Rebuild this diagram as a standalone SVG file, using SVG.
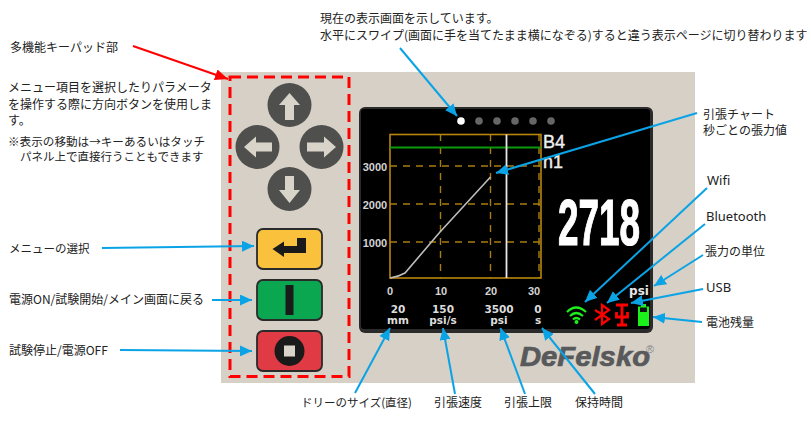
<svg xmlns="http://www.w3.org/2000/svg" width="811" height="425" viewBox="0 0 811 425">
<style>
.t{font-family:"Noto Sans CJK JP","Noto Sans",sans-serif;font-size:12px;fill:#222}
.l{font-family:"Noto Sans",sans-serif;font-size:13px;fill:#222}
.s{font-family:"DejaVu Sans",sans-serif;font-weight:bold;font-size:10.500px;fill:#ddd;text-anchor:middle}
.a{font-family:"Liberation Sans",sans-serif;font-weight:bold;font-size:11px;fill:#d4d4d4;text-anchor:middle}
.g{stroke:#b8860b;stroke-width:1.6;fill:none}
.d{stroke:#a87c10;stroke-width:1.4;stroke-dasharray:7 6;fill:none}
.c{stroke:#0aa3e6;stroke-width:2;fill:none;marker-end:url(#b)}
.dp{fill:#4f504e}
.ar{fill:#d9d4ca}
.dot{fill:#666}
.key{stroke:#2a2a2a;stroke-width:1.8}
</style>
<defs>
<marker id="b" markerUnits="userSpaceOnUse" markerWidth="13" markerHeight="11" refX="12" refY="5.5" orient="auto"><path d="M0 0L12 5.5L0 11z" fill="#0aa3e6"/></marker>
<marker id="r" markerUnits="userSpaceOnUse" markerWidth="14" markerHeight="11" refX="13" refY="5.5" orient="auto"><path d="M0 0L13 5.5L0 11z" fill="#f00"/></marker>
</defs>
<rect width="811" height="425" fill="#fff"/>
<g id="device">
<rect x="221" y="72" width="474" height="311" fill="#d6d0c6"/>
<rect x="359" y="107" width="294" height="226" rx="6" fill="#2b2b2b"/>
<rect x="361" y="109" width="289" height="220" rx="3" fill="#000"/>
<text x="520" y="366" font-family="Liberation Sans,sans-serif" font-weight="bold" font-style="italic" font-size="28" fill="#58595b" stroke="#58595b" stroke-width=".7" textLength="130" lengthAdjust="spacingAndGlyphs">DeFelsko</text>
<text x="646" y="353" font-family="Liberation Sans,sans-serif" font-size="11" fill="#888">®</text>
</g>
<g id="keypad">
<rect x="230" y="77" width="119" height="299.500" fill="none" stroke="#f00" stroke-width="3" stroke-dasharray="11 6"/>
<g id="key-up"><circle cx="289.500" cy="105" r="22" class="dp"/><path class="ar" d="M289.500 93L300 105H294V120H285V105H279z"/></g>
<g id="key-left"><circle cx="257.500" cy="147" r="22" class="dp"/><path class="ar" d="M244 147L256 136.500V142.500H272V151.500H256V157.500z"/></g>
<g id="key-right"><circle cx="321.500" cy="147" r="22" class="dp"/><path class="ar" d="M336 147L324 136.500V142.500H307V151.500H324V157.500z"/></g>
<g id="key-down"><circle cx="289.500" cy="189" r="22" class="dp"/><path class="ar" d="M289.500 203L300 190H294V176H285V190H279z"/></g>
<g id="key-enter"><rect x="257" y="229" width="65" height="40" rx="6" fill="#f9c13c" class="key"/><path d="M272.500 249L284 241.500V246H297V238H306V253H284V257z" fill="#1a1a1a"/></g>
<g id="key-power"><rect x="257" y="280" width="65" height="40" rx="6" fill="#0aa650" class="key"/><rect x="285.500" y="285" width="8" height="30" fill="#1a1a1a"/></g>
<g id="key-stop"><rect x="257" y="331" width="65" height="40" rx="6" fill="#e03a45" class="key"/><circle cx="289.500" cy="351" r="15" fill="#1a1a1a"/><rect x="284" y="345.500" width="11" height="11" fill="#d9d4ca"/></g>
</g>
<g id="screen">
<circle cx="461" cy="121" r="3.800" fill="#fff"/>
<circle cx="479" cy="121" r="3.800" class="dot"/><circle cx="497" cy="121" r="3.800" class="dot"/><circle cx="515" cy="121" r="3.800" class="dot"/><circle cx="533" cy="121" r="3.800" class="dot"/><circle cx="551" cy="121" r="3.800" class="dot"/>
<path class="d" d="M390 166H541M390 204H541M390 242H541M440.500 134V278M490.500 134V278M539 134V278"/>
<rect x="390" y="134.500" width="151" height="143.500" class="g"/>
<path d="M390 147.500H541" stroke="#0a9a0a" stroke-width="1.800"/>
<path d="M506.500 134.500V278" stroke="#e8e8e8" stroke-width="1.800"/>
<path d="M390 278Q398 277 405 273L440 232L490.500 177" stroke="#bdbdbd" stroke-width="1.600" fill="none"/>
<text x="543" y="148" font-family="Liberation Sans,sans-serif" font-size="18" fill="#eee" stroke="#eee" stroke-width=".4">B4</text>
<text x="543" y="168" font-family="Liberation Sans,sans-serif" font-size="18" fill="#eee" stroke="#eee" stroke-width=".4">n1</text>
<text x="599" y="245" text-anchor="middle" font-family="Liberation Sans,sans-serif" font-weight="bold" font-size="64" fill="#fff" stroke="#fff" stroke-width="1.200" textLength="82" lengthAdjust="spacingAndGlyphs">2718</text>
<text class="a" x="375" y="171">3000</text><text class="a" x="375" y="209">2000</text><text class="a" x="375" y="247">1000</text>
<text class="a" x="390" y="295">0</text><text class="a" x="441" y="295">10</text><text class="a" x="491" y="295">20</text><text class="a" x="534" y="295">30</text>
<text class="s" x="398" y="313">20</text><text class="s" x="398" y="324">mm</text>
<text class="s" x="443" y="313">150</text><text class="s" x="443" y="324">psi/s</text>
<text class="s" x="499" y="313">3500</text><text class="s" x="499" y="324">psi</text>
<text class="s" x="538" y="313">0</text><text class="s" x="538" y="324">s</text>
<text x="639" y="295" text-anchor="middle" font-family="DejaVu Sans,sans-serif" font-weight="bold" font-size="12" fill="#e8e8e8">psi</text>
<g id="wifi" fill="none" stroke="#1cf01c" stroke-width="2.200"><path d="M567 312Q576 303 586 312M570 316Q576 310 583 316M573 319.500Q576 316.500 580 319.500"/><circle cx="576.500" cy="322" r="2" fill="#1cf01c" stroke="none"/></g>
<path id="bluetooth" d="M595 310L609 319L602 324V305L609 310L595 320" fill="none" stroke="#f00" stroke-width="2.200"/>
<path id="usb" d="M616 305H628M622 304V325M616.500 312V317H627.500V312M617 325H627" fill="none" stroke="#f00" stroke-width="2.800"/>
<g id="battery"><rect x="641" y="304" width="5" height="3" fill="#1cf01c"/><rect x="638" y="306.500" width="11" height="19.500" fill="#1cf01c"/><rect x="640" y="307.500" width="7" height="4.500" fill="#111"/></g>
</g>
<g id="connectors">
<path d="M133 46L228 79" stroke="#f00" stroke-width="2" fill="none" marker-end="url(#r)"/>
<path class="c" d="M102 248L254 246"/>
<path class="c" d="M212 300L252 300"/>
<path class="c" d="M120 350L252 351"/>
<path class="c" d="M400 48L457 116"/>
<path class="c" d="M697 113L496 173"/>
<path class="c" d="M707 188L585 302"/>
<path class="c" d="M705 224L607 303"/>
<path class="c" d="M703 255L654 286"/>
<path class="c" d="M703 289L631 303"/>
<path class="c" d="M702 322L653 317"/>
<path class="c" d="M355 393L390 328"/>
<path class="c" d="M455 394L443 328"/>
<path class="c" d="M525 394L500.500 328"/>
<path class="c" d="M595 394L542 328"/>
</g>
<g id="labels">
<text class="t" x="10" y="52">多機能キーパッド部</text>
<text class="t" x="8" y="92">メニュー項目を選択したりパラメータ</text>
<text class="t" x="8" y="109">を操作する際に方向ボタンを使用しま</text>
<text class="t" x="8" y="125">す。</text>
<text class="t" x="8" y="146" style="font-size:11.600px">※表示の移動は→キーあるいはタッチ</text>
<text class="t" x="20" y="161" style="font-size:11.500px">パネル上で直接行うこともできます</text>
<text class="t" x="9" y="253" style="font-size:11.500px">メニューの選択</text>
<text class="t" x="9" y="304">電源ON/試験開始/メイン画面に戻る</text>
<text class="t" x="9" y="355">試験停止/電源OFF</text>
<text class="t" x="320" y="23">現在の表示画面を示しています。</text>
<text class="t" x="320" y="40">水平にスワイプ(画面に手を当てたまま横になぞる)すると違う表示ページに切り替わります</text>
<text class="t" x="703" y="119">引張チャート</text>
<text class="t" x="703" y="135">秒ごとの張力値</text>
<text class="l" x="707" y="185">Wifi</text>
<text class="l" x="706" y="221">Bluetooth</text>
<text class="t" x="705" y="256">張力の単位</text>
<text class="l" x="706" y="292">USB</text>
<text class="t" x="706" y="327">電池残量</text>
<text class="t" x="301" y="407" style="font-size:11.500px">ドリーのサイズ(直径)</text>
<text class="t" x="434" y="407">引張速度</text>
<text class="t" x="504" y="407">引張上限</text>
<text class="t" x="575" y="407">保持時間</text>
</g>
</svg>
